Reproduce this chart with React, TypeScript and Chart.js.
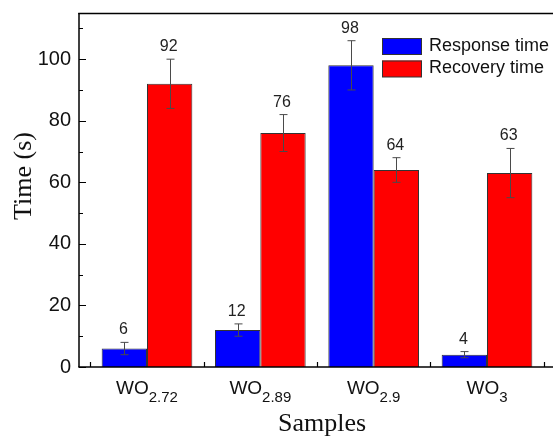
import React, { useEffect, useRef } from 'react';
import { Chart, registerables } from 'chart.js';

Chart.register(...registerables);

const categories = ['WO2.72', 'WO2.89', 'WO2.9', 'WO3'];
const labelBase = ['WO', 'WO', 'WO', 'WO'];
const labelSub = ['2.72', '2.89', '2.9', '3'];
const responseTime = [6, 12, 98, 4];
const recoveryTime = [92, 76, 64, 63];
const responseErr = [2, 2, 8, 1];
const recoveryErr = [8, 6, 4, 8];
const seriesNames = ['Response time', 'Recovery time'];
const seriesColors = ['#0000FF', '#FF0000'];
const majorTicks = [0, 20, 40, 60, 80, 100];
const minorTicks = [10, 30, 50, 70, 90, 110];
const xTitle = 'Samples';
const yTitle = 'Time (s)';

const SANS = '"Liberation Sans", Arial, sans-serif';
const SERIF = '"Liberation Serif", "Times New Roman", serif';

export default function App() {
  const ref = useRef<HTMLCanvasElement>(null);

  useEffect(() => {
    const canvas = ref.current!;
    const errs = [responseErr, recoveryErr];
    const vals = [responseTime, recoveryTime];

    const deco = {
      id: 'deco',
      afterDatasetsDraw(chart: any) {
        const { ctx, chartArea: ca, scales } = chart;
        const xs = scales.x;
        const ys = scales.y;
        const fullW = chart.canvas.width;
        ctx.save();
        // axes frame
        ctx.strokeStyle = '#000';
        ctx.lineWidth = 1.5;
        ctx.beginPath();
        ctx.moveTo(ca.left - 0.75, ca.top + 0.5);
        ctx.lineTo(fullW, ca.top + 0.5);
        ctx.stroke();
        ctx.beginPath();
        ctx.moveTo(ca.left - 0.75, ca.bottom);
        ctx.lineTo(fullW, ca.bottom);
        ctx.stroke();
        ctx.beginPath();
        ctx.moveTo(ca.left, ca.top);
        ctx.lineTo(ca.left, ca.bottom);
        ctx.stroke();
        // y ticks (inward)
        ctx.lineWidth = 1.2;
        ctx.beginPath();
        majorTicks.forEach((v) => {
          const py = Math.round(ys.getPixelForValue(v)) + 0.5;
          ctx.moveTo(ca.left, py);
          ctx.lineTo(ca.left + 7, py);
        });
        minorTicks.forEach((v) => {
          const py = Math.round(ys.getPixelForValue(v)) + 0.5;
          ctx.moveTo(ca.left, py);
          ctx.lineTo(ca.left + 4, py);
        });
        // x minor ticks between categories
        for (let i = 0; i <= categories.length; i++) {
          const px = Math.round(xs.getPixelForValue(i - 0.5)) + 0.5;
          ctx.moveTo(px, ca.bottom);
          ctx.lineTo(px, ca.bottom - 5);
        }
        ctx.stroke();

        // error bars and value labels
        for (let di = 0; di < 2; di++) {
          const meta = chart.getDatasetMeta(di);
          meta.data.forEach((bar: any, j: number) => {
            const v = vals[di][j];
            const e = errs[di][j];
            const bx = Math.round(bar.x) + 0.5;
            const yt = ys.getPixelForValue(v + e);
            const yb = ys.getPixelForValue(v - e);
            ctx.strokeStyle = '#4a4a4a';
            ctx.lineWidth = 1;
            ctx.beginPath();
            ctx.moveTo(bx, yt);
            ctx.lineTo(bx, yb);
            ctx.moveTo(bx - 4, yt);
            ctx.lineTo(bx + 4, yt);
            ctx.moveTo(bx - 4, yb);
            ctx.lineTo(bx + 4, yb);
            ctx.stroke();
            ctx.fillStyle = '#222';
            ctx.font = `16px ${SANS}`;
            ctx.textAlign = 'center';
            ctx.textBaseline = 'alphabetic';
            ctx.fillText(String(v), bar.x - 1, yt - 8);
          });
        }

        // x tick labels with subscripts
        categories.forEach((_, i) => {
          const cx = xs.getPixelForValue(i);
          ctx.fillStyle = '#111';
          ctx.font = `19px ${SANS}`;
          const wb = ctx.measureText(labelBase[i]).width;
          ctx.font = `15px ${SANS}`;
          const ws = ctx.measureText(labelSub[i]).width;
          const start = cx - (wb + ws) / 2;
          ctx.textAlign = 'left';
          ctx.textBaseline = 'alphabetic';
          ctx.font = `19px ${SANS}`;
          ctx.fillText(labelBase[i], start, ca.bottom + 27);
          ctx.font = `15px ${SANS}`;
          ctx.fillText(labelSub[i], start + wb, ca.bottom + 35);
        });

        // axis titles
        ctx.fillStyle = '#111';
        ctx.font = `26px ${SERIF}`;
        ctx.textAlign = 'center';
        ctx.textBaseline = 'alphabetic';
        ctx.fillText(xTitle, (ca.left + 553) / 2 + 6, ca.bottom + 64);
        ctx.save();
        ctx.translate(31, ca.top + 163);
        ctx.rotate(-Math.PI / 2);
        ctx.textBaseline = 'alphabetic';
        ctx.fillText(yTitle, 0, 0);
        ctx.restore();

        // legend
        const lx = ca.left + 303;
        const ly = ca.top + 25;
        seriesNames.forEach((name, i) => {
          const by = ly + i * 22.5;
          ctx.fillStyle = seriesColors[i];
          ctx.fillRect(lx, by, 40, 16.5);
          ctx.strokeStyle = '#333';
          ctx.lineWidth = 1;
          ctx.strokeRect(lx + 0.5, by + 0.5, 39, 16);
          ctx.fillStyle = '#111';
          ctx.font = `18px ${SANS}`;
          ctx.textAlign = 'left';
          ctx.textBaseline = 'middle';
          ctx.fillText(name, lx + 47, by + 8);
        });
        ctx.restore();
      },
    };

    const chart = new Chart(canvas, {
      type: 'bar',
      data: {
        labels: categories,
        datasets: [
          {
            label: seriesNames[0],
            data: responseTime.map((v, i) => ({ x: i, y: v })),
            backgroundColor: seriesColors[0],
            borderColor: '#333',
            borderWidth: 1,
          },
          {
            label: seriesNames[1],
            data: recoveryTime.map((v, i) => ({ x: i, y: v })),
            backgroundColor: seriesColors[1],
            borderColor: '#333',
            borderWidth: 1,
          },
        ],
      },
      options: {
        responsive: false,
        animation: false,
        devicePixelRatio: 1,
        layout: { padding: { left: 0, top: 13, right: 2, bottom: 70 } },
        datasets: { bar: { categoryPercentage: 0.8, barPercentage: 1.0 } },
        plugins: { legend: { display: false }, tooltip: { enabled: false } },
        scales: {
          x: {
            type: 'linear',
            offset: false,
            min: -0.6,
            max: 3.6,
            grid: { display: false, offset: false },
            ticks: { display: false, stepSize: 1, includeBounds: false },
            border: { display: false },
            afterFit: (s: any) => {
              s.height = 0;
              s.paddingLeft = 0;
              s.paddingRight = 0;
            },
          },
          y: {
            min: 0,
            max: 115,
            grid: { display: false, drawTicks: false },
            border: { display: false },
            ticks: {
              stepSize: 20,
              includeBounds: false,
              padding: 8,
              color: '#111',
              font: { family: SANS, size: 20 },
            },
            afterFit: (s: any) => {
              s.width = 79;
              s.paddingTop = 0;
              s.paddingBottom = 0;
            },
          },
        },
      },
      plugins: [deco],
    } as any);

    return () => chart.destroy();
  }, []);

  return (
    <div
      style={{
        position: 'fixed',
        left: 0,
        top: 0,
        width: 553,
        height: 437,
        overflow: 'hidden',
        background: '#fff',
      }}
    >
      <canvas ref={ref} width={557} height={437} />
    </div>
  );
}
